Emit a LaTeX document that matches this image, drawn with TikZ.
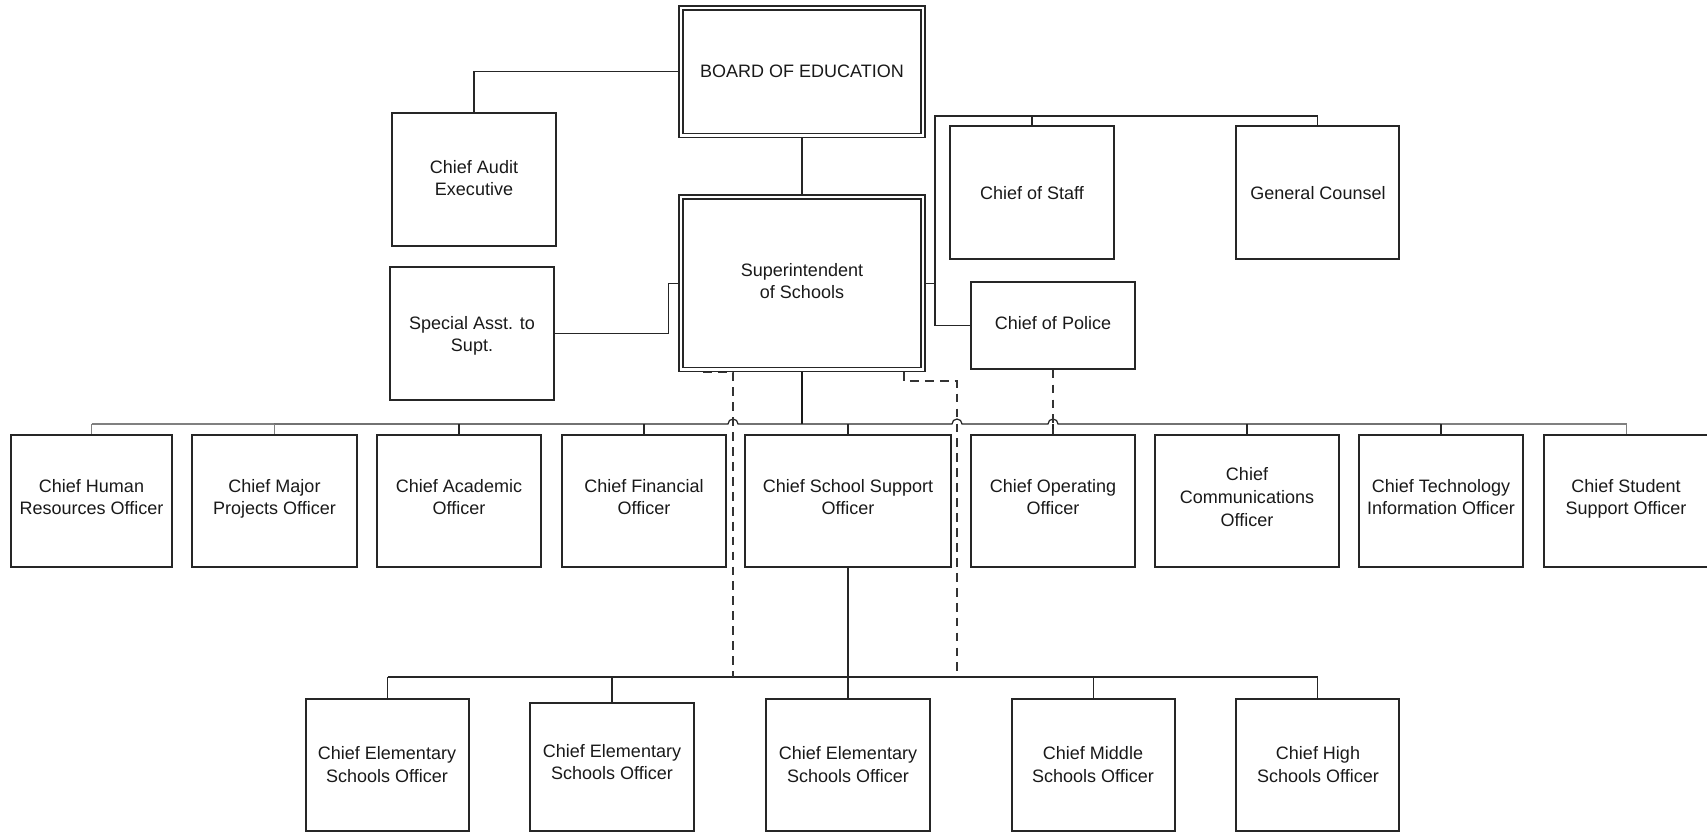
\documentclass[tikz,border=0pt]{standalone}
\usepackage{fontspec}
\setmainfont{Liberation Sans}
\usetikzlibrary{fit,backgrounds,calc}
\begin{document}
\begin{tikzpicture}[x=0.02cm,y=-0.02cm,
  box/.style={draw=black!85, line width=0.75pt, inner sep=0pt},
  dbox/.style={draw=black!85, line width=0.65pt, double=white, double distance=1.6pt, inner sep=0pt},
  txt/.style={font=\fontsize{10.25}{13}\selectfont, align=center, text=black!90, inner sep=0pt, text depth=0pt},
  link/.style={draw=black!85, line width=0.75pt},
  mainlink/.style={draw=black!90, line width=1.3pt},
  buslink/.style={draw=black!85, line width=0.7pt},
  graylink/.style={draw=black!50, line width=0.7pt},
  dlink/.style={draw=black!80, line width=0.75pt, dash pattern=on 5pt off 3.5pt}]
\useasboundingbox (0,0) rectangle (1707,832);

% top
\node[dbox, fit={(681,8) (923,135.5)}] (board) {};
\node[txt] (board-t) at (802,71) {BOARD OF EDUCATION};
\node[dbox, fit={(681,197) (923,369.5)}] (sup) {};
\node[txt] (sup-t) at (802,281) {Superintendent\\of Schools};
\node[box, fit={(392,113) (556,246)}] (audit) {};
\node[txt] (audit-t) at (474,178) {Chief Audit\\Executive};
\node[box, fit={(390,267) (554,400)}] (spec) {};
\node[txt] (spec-t) at (472,334) {Special Asst. to\\Supt.};
\node[box, fit={(950,126) (1114,259)}] (staff) {};
\node[txt] (staff-t) at (1032,193) {Chief of Staff};
\node[box, fit={(1236,126) (1399,259)}] (gc) {};
\node[txt] (gc-t) at (1318,193) {General Counsel};
\node[box, fit={(971,282) (1135,369)}] (police) {};
\node[txt] (police-t) at (1053,323) {Chief of Police};

% officer row
\node[box, fit={(11,435) (172,567)}] (hr) {};
\node[txt] (hr-t) at (91.5,497) {Chief Human\\Resources Officer};
\node[box, fit={(192,435) (357,567)}] (mp) {};
\node[txt] (mp-t) at (274.5,497) {Chief Major\\Projects Officer};
\node[box, fit={(377,435) (541,567)}] (ac) {};
\node[txt] (ac-t) at (459,497) {Chief Academic\\Officer};
\node[box, fit={(562,435) (726,567)}] (fi) {};
\node[txt] (fi-t) at (644,497) {Chief Financial\\Officer};
\node[box, fit={(745,435) (951,567)}] (ss) {};
\node[txt] (ss-t) at (848,497) {Chief School Support\\Officer};
\node[box, fit={(971,435) (1135,567)}] (co) {};
\node[txt] (co-t) at (1053,497) {Chief Operating\\Officer};
\node[box, fit={(1155,435) (1339,567)}] (cm) {};
\node[txt] (cm-t) at (1247,497) {Chief\\Communications\\Officer};
\node[box, fit={(1359,435) (1523,567)}] (ct) {};
\node[txt] (ct-t) at (1441,497) {Chief Technology\\Information Officer};
\node[box, fit={(1544,435) (1709,567)}] (st) {};
\node[txt] (st-t) at (1626,497) {Chief Student\\Support Officer};

% school row
\node[box, fit={(306,699) (469,831)}] (e1) {};
\node[txt] (e1-t) at (387,764.5) {Chief Elementary\\Schools Officer};
\node[box, fit={(530,703) (694,831)}] (e2) {};
\node[txt] (e2-t) at (612,762) {Chief Elementary\\Schools Officer};
\node[box, fit={(766,699) (930,831)}] (e3) {};
\node[txt] (e3-t) at (848,764.5) {Chief Elementary\\Schools Officer};
\node[box, fit={(1012,699) (1175,831)}] (ms) {};
\node[txt] (ms-t) at (1093,764.5) {Chief Middle\\Schools Officer};
\node[box, fit={(1236,699) (1399,831)}] (hs) {};
\node[txt] (hs-t) at (1318,764.5) {Chief High\\Schools Officer};

\coordinate (rtop) at (935,116);
\coordinate (busy) at (0,424);
\coordinate (lbus) at (0,677);
\coordinate (dl0) at (703,372.5);
\coordinate (dl1) at (733,372.5);
\coordinate (dl2) at (733,677);
\coordinate (dr0) at (904,372);
\coordinate (dr1) at (904,381);
\coordinate (dr2) at (957,381);
\coordinate (dr3) at (957,677);

\begin{scope}[on background layer]
\draw[link] (board.west) -| (audit.north);
\draw[link] (board.south) -- (sup.north);
\draw[link] (sup.west) -- ++(-12,0) |- (spec.east);
\draw[link] (sup.east) -- (sup.east -| rtop);
\draw[link] (police.west) -| (rtop) -| (gc.north);
\draw[link] (staff.north) -- (staff.north |- rtop);
\draw[mainlink] (sup.south) -- (sup.south |- busy);
% upper bus with hops
\draw[graylink] (hr.north |- busy) -- (mp.north |- busy);
\draw[buslink] (mp.north |- busy) -- (728,424) arc[start angle=180,end angle=0,radius=0.1cm]
  -- (952,424) arc[start angle=180,end angle=0,radius=0.1cm]
  -- (1048,424) arc[start angle=180,end angle=0,radius=0.1cm]
  -- (ct.north |- busy);
\draw[graylink] (ct.north |- busy) -- (st.north |- busy);
\foreach \n in {hr,mp,st} \draw[graylink] (\n.north) -- (\n.north |- busy);
\foreach \n in {ac,fi,ss,co,cm,ct} \draw[buslink] (\n.north) -- (\n.north |- busy);
% lower bus
\draw[link] (ss.south) -- (ss.south |- lbus);
\draw[link] (e1.north |- lbus) -- (hs.north |- lbus);
\foreach \n in {e1,e2,e3,ms,hs} \draw[link] (\n.north) -- (\n.north |- lbus);
% dashed
\draw[dlink] (dl0) -- (dl1) -- (dl2);
\draw[dlink] (dr0) -- (dr1) -- (dr2) -- (dr3);
\draw[dlink] (police.south) -- (co.north);
\end{scope}
\end{tikzpicture}
\end{document}
